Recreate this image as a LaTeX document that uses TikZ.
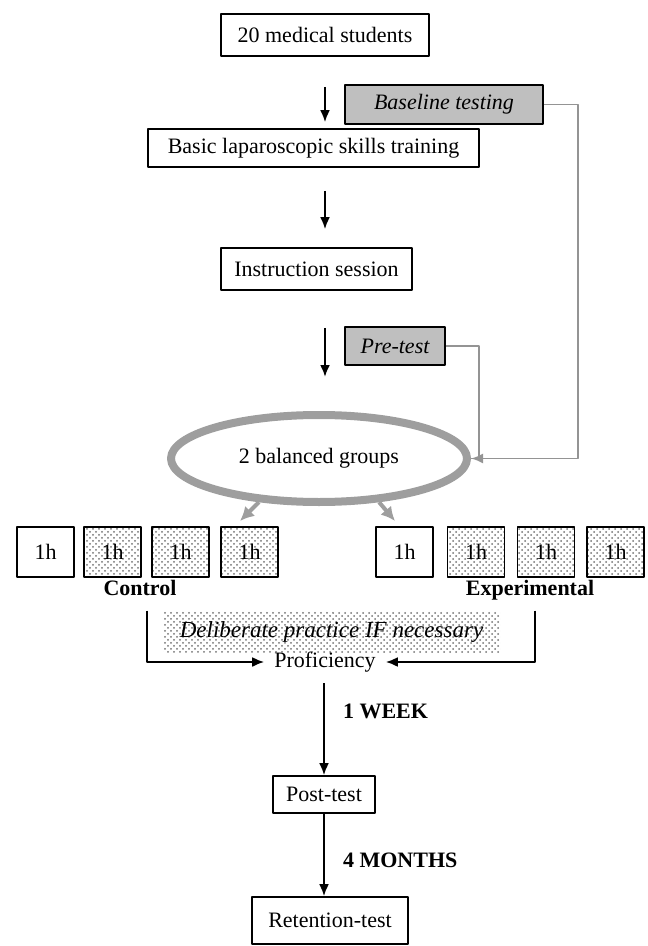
\documentclass[tikz,border=0pt]{standalone}
\usepackage{fontspec}
\setmainfont{Liberation Serif}
\usetikzlibrary{shapes.geometric,patterns,arrows.meta}

\begin{document}
\begin{tikzpicture}[line join=round,>={Latex[length=6pt,width=5pt]},x=0.5pt,y=-0.5pt]
	\tikzset{every node/.style={font=\fontsize{11}{13}\selectfont},
		mainbox/.style={draw,line width=0.8pt,inner sep=0pt,fill=white},
		testbox/.style={mainbox,fill=black!25,font=\fontsize{11}{13}\selectfont\itshape},
		dotbox/.style={pattern=crosshatch dots,pattern color=black!55,inner sep=0pt},
		hourbox/.style={mainbox,minimum width=28.5pt,minimum height=25pt},
		grplabel/.style={font=\fontsize{11}{13}\selectfont\bfseries,text height=1.6ex,text depth=0.5ex},
		flowarr/.style={->,line width=1.1pt},
		fbline/.style={line width=0.9pt,draw=black!42},
		grparr/.style={-{Latex[length=7pt,width=7pt]},line width=2pt,draw=black!38}}
	\useasboundingbox (0,0) rectangle (647,946);
	% upper column
	\node[mainbox,minimum width=104pt,minimum height=21pt] (start) at (325,35) {20 medical students};
	\node[testbox,minimum width=99pt,minimum height=19.5pt] (base) at (444,104.5) {Baseline testing};
	\node[mainbox,minimum width=165.5pt,minimum height=19pt] (basic) at (313.5,148) {Basic laparoscopic skills training};
	\node[mainbox,minimum width=95.5pt,minimum height=21pt] (instr) at (316.5,269) {Instruction session};
	\node[testbox,minimum width=50pt,minimum height=19pt] (pre) at (395,346) {Pre-test};
	\node[ellipse,draw=black!38,line width=4pt,minimum width=148pt,minimum height=43.5pt,inner sep=0pt] (bal) at (319,458.5) {2 balanced groups};
	\draw[flowarr,shorten <=15pt,shorten >=3pt] (start) -- (start |- basic.north);
	\draw[flowarr,shorten <=11.5pt,shorten >=9pt] (basic.south -| start) -- (start |- instr.north);
	\draw[flowarr,shorten <=18.5pt,shorten >=17pt] (instr.south -| start) -- (start |- bal.north);
	\draw[fbline] (pre.east) -- ++(16.5pt,0) |- (bal.east);
	\draw[fbline,->] (base.east) -- ++(17pt,0) |- (bal.east);
	% the two groups
	\coordinate (gl) at (240,521);
	\coordinate (gr) at (395,521);
	\draw[grparr] (bal.216) -- (gl);
	\draw[grparr] (bal.324) -- (gr);
	\node[hourbox] (c1) at (45.5,552) {1h};
	\foreach \x/\i in {112.5/2,180.5/3,249.5/4}
		\node[hourbox,dotbox] (c\i) at (\x,552) {1h};
	\node[hourbox] (e1) at (404.5,552) {1h};
	\foreach \x/\i in {476/2,546/3,615.5/4}
		\node[hourbox,dotbox] (e\i) at (\x,552) {1h};
	\node[grplabel] (ctl) at (140,590) {Control};
	\node[grplabel] (expt) at (530,590) {Experimental};
	\node[dotbox,minimum width=168.5pt,minimum height=20.5pt,font=\fontsize{11.5}{13}\selectfont\itshape] (delib) at (331.5,631.5) {Deliberate practice IF necessary};
	% lower column
	\node (prof) at (325,662) {Proficiency};
	\node[mainbox,minimum width=51pt,minimum height=18.5pt] (post) at (324,794.5) {Post-test};
	\node[mainbox,minimum width=78pt,minimum height=23.5pt] (ret) at (330,920.5) {Retention-test};
	\node[grplabel,anchor=west] (wk) at (336,713) {1 WEEK};
	\node[grplabel,anchor=west] (mo) at (336,862) {4 MONTHS};
	\draw[flowarr,shorten >=1.5pt] (ctl.south) ++(3.5pt,-2pt) |- (prof.west);
	\draw[flowarr,shorten >=1.5pt] (expt.south) ++(2.5pt,-2pt) |- (prof.east);
	\draw[flowarr,shorten <=2pt] (prof.south -| post) -- (post.north);
	\draw[flowarr] (post) -- (post |- ret.north);
\end{tikzpicture}
\end{document}
